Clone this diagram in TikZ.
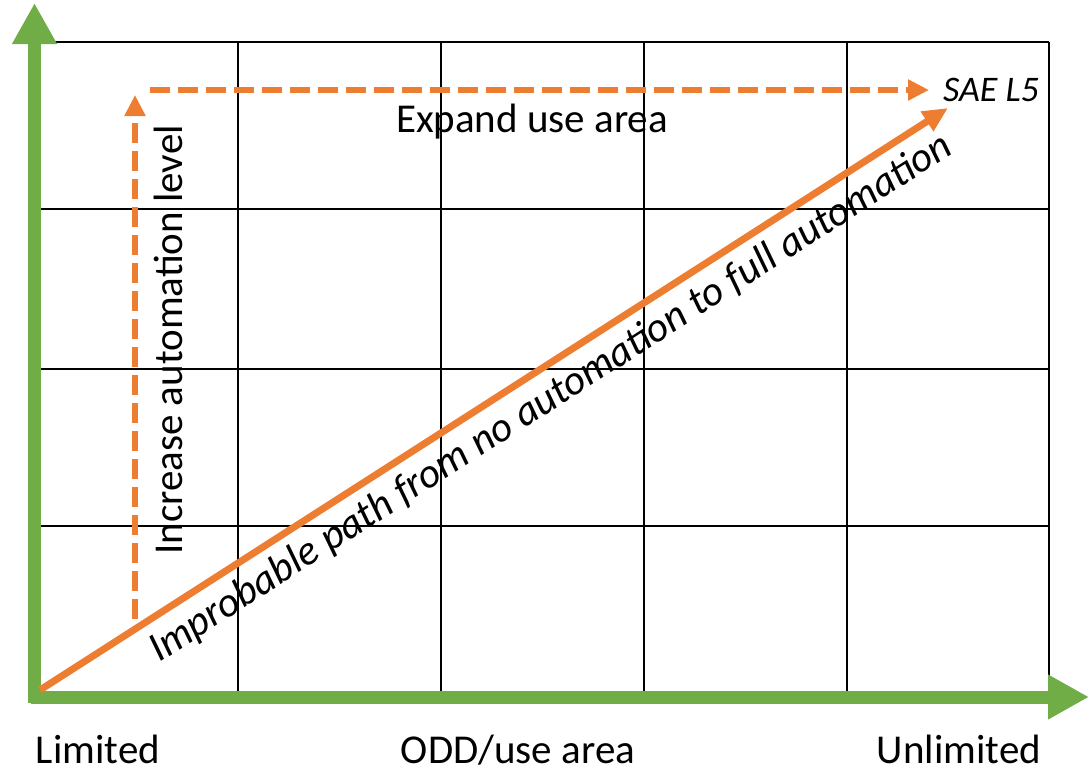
\documentclass[tikz,border=0pt]{standalone}
\usepackage{fontspec}
\setmainfont{Carlito}
\usetikzlibrary{arrows.meta, positioning}
\definecolor{axisgreen}{HTML}{70AD47}
\definecolor{routeorange}{HTML}{ED7D31}

\begin{document}
\begin{tikzpicture}[
    x=0.5pt, y=-0.5pt,
    axis/.style={draw=axisgreen, line width=6.5pt,
                -{Triangle[length=20.5pt, width=21pt]}},
    gridline/.style={black, line width=0.8pt},
    route/.style={draw=routeorange, line width=3pt, dash pattern=on 10pt off 4pt,
                 -{Triangle[length=10.5pt, width=10pt]}},
    direct/.style={draw=routeorange, line width=3.5pt,
                  -{Triangle[length=12.5pt, width=11pt]}},
    txt/.style={font=\fontsize{20.5}{24}\selectfont, inner sep=0pt}
]
\useasboundingbox (0,0) rectangle (1090,771);

% Grid
\foreach \gx in {238,441,644,847,1049}
    \draw[gridline] (\gx,42) -- (\gx,691);
\foreach \gy in {42,209,369,526}
    \draw[gridline] (40,\gy) -- (1049,\gy);

% Axes
\coordinate (ystart) at (34.5,703);
\coordinate (ytip) at (34.5,3);
\coordinate (xstart) at (31,697);
\coordinate (xtip) at (1089,697);
\draw[axis] (ystart) -- (ytip);
\draw[axis] (xstart) -- (xtip);

% Axis labels
\node[txt, anchor=base] at (98,763) (limited) {Limited};
\node[txt, anchor=base] at (518,763) (odd) {ODD/use area};
\node[txt, anchor=base] at (959,763) (unlimited) {Unlimited};

% Routes to L5
\node[txt, font=\fontsize{18}{22}\selectfont\itshape] at (991,90) (l5) {SAE L5};
\coordinate (start) at (40,690);
\coordinate (upstart) at (135,619);
\coordinate (uptip) at (135,95);
\coordinate (rightstart) at (150,90);
\coordinate (righttip) at (929,90);
\coordinate (l5tip) at (948,108);

\draw[route] (upstart) -- (uptip);
\draw[route] (rightstart) -- (righttip);
\draw[direct] (start) -- (l5tip)
    node[txt, pos=0.545, sloped, below=4.5pt, font=\fontsize{20.8}{24}\selectfont\itshape]
    (improbable) {Improbable path from no automation to full automation};

\node[txt, anchor=base, rotate=90] at (182,340) (increase) {Increase automation level};
\node[txt, anchor=base] at (532,132) (expand) {Expand use area};

\end{tikzpicture}
\end{document}
